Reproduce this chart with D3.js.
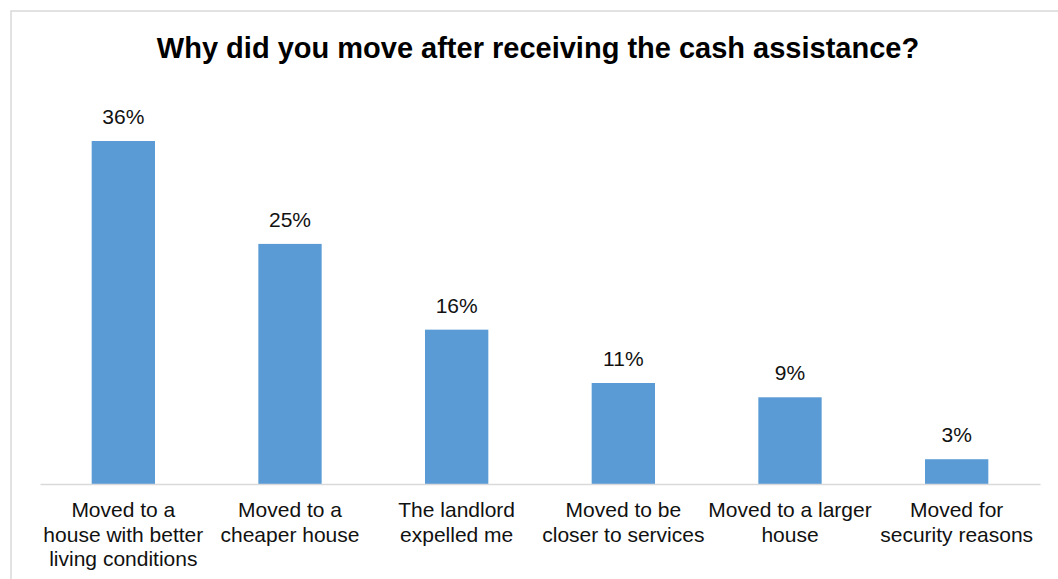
<!DOCTYPE html>
<html>
<head>
<meta charset="utf-8">
<script src="https://cdn.jsdelivr.net/npm/d3@7"></script>
<style>
  html, body { margin: 0; padding: 0; background: #fff; }
  svg { display: block; }
  text { font-family: "Liberation Sans", Arial, sans-serif; }
</style>
</head>
<body>
<svg id="chart" width="1058" height="579"></svg>
<script>
const titleText = "Why did you move after receiving the cash assistance?";
const categories = [
  "Moved to a house with better living conditions",
  "Moved to a cheaper house",
  "The landlord expelled me",
  "Moved to be closer to services",
  "Moved to a larger house",
  "Moved for security reasons"
];
const categoryLines = [
  ["Moved to a", "house with better", "living conditions"],
  ["Moved to a", "cheaper house"],
  ["The landlord", "expelled me"],
  ["Moved to be", "closer to services"],
  ["Moved to a larger", "house"],
  ["Moved for", "security reasons"]
];
const values = [36.0, 25.2, 16.2, 10.6, 9.1, 2.6];
const valueLabels = ["36%", "25%", "16%", "11%", "9%", "3%"];

const svg = d3.select("#chart");
const W = 1058, H = 579;

// outer chart border
svg.append("rect")
  .attr("x", 11).attr("y", 11)
  .attr("width", 1200).attr("height", 700)
  .attr("fill", "#fff")
  .attr("stroke", "#d9d9d9")
  .attr("stroke-width", 1.5);

const plot = { left: 40, right: 1040, top: 102.9, bottom: 484 };

const x = d3.scaleBand()
  .domain(categories)
  .range([plot.left, plot.right])
  .paddingInner(0.62)
  .paddingOuter(0.31);

const y = d3.scaleLinear()
  .domain([0, 40])
  .range([plot.bottom, plot.top]);

// title
svg.append("text")
  .attr("x", 538)
  .attr("y", 57.5)
  .attr("text-anchor", "middle")
  .attr("font-size", "29px")
  .attr("font-weight", "bold")
  .attr("fill", "#000")
  .text(titleText);

// bars
svg.append("g").selectAll("rect")
  .data(values)
  .join("rect")
  .attr("x", (d, i) => x(categories[i]))
  .attr("y", d => y(d))
  .attr("width", x.bandwidth())
  .attr("height", d => y(0) - y(d))
  .attr("fill", "#5B9BD5");

// value labels
svg.append("g").selectAll("text")
  .data(values)
  .join("text")
  .attr("x", (d, i) => x(categories[i]) + x.bandwidth() / 2)
  .attr("y", d => y(d) - 17)
  .attr("text-anchor", "middle")
  .attr("font-size", "21px")
  .attr("fill", "#111")
  .text((d, i) => valueLabels[i]);

// x axis
const xAxis = d3.axisBottom(x).tickSize(0).tickFormat("");
const axisG = svg.append("g")
  .attr("transform", `translate(0,${plot.bottom})`)
  .call(xAxis);
axisG.select(".domain")
  .attr("stroke", "#d9d9d9")
  .attr("stroke-width", 1.5);

// category labels
const labG = svg.append("g");
categories.forEach((c, i) => {
  const t = labG.append("text")
    .attr("x", x(c) + x.bandwidth() / 2)
    .attr("y", 516.7)
    .attr("text-anchor", "middle")
    .attr("font-size", "21px")
    .attr("fill", "#111");
  categoryLines[i].forEach((line, j) => {
    t.append("tspan")
      .attr("x", x(c) + x.bandwidth() / 2)
      .attr("y", 516.7 + j * 24.8)
      .text(line);
  });
});
</script>
</body>
</html>
